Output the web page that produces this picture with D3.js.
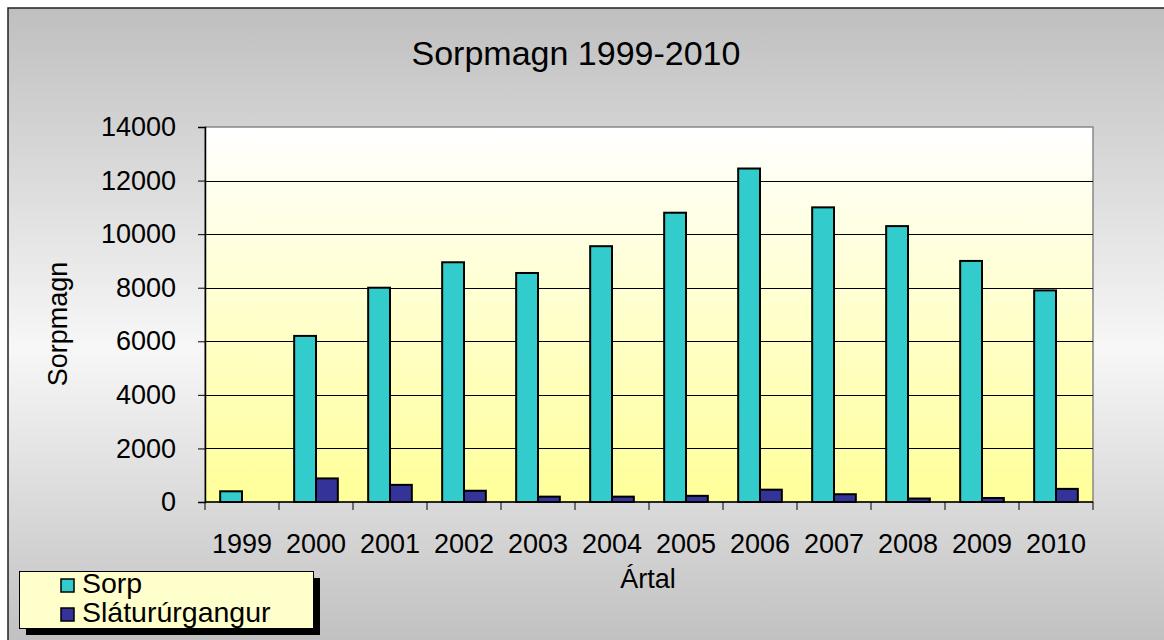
<!DOCTYPE html>
<html>
<head>
<meta charset="utf-8">
<script src="https://cdn.jsdelivr.net/npm/d3@7"></script>
<style>
    body { margin: 0; background: #fff; }
    svg { display: block; font-family: "Liberation Sans", Arial, sans-serif; }
</style>
</head>
<body>
<svg></svg>
<script>
const width = 1164;
const height = 640;

const years = ['1999', '2000', '2001', '2002', '2003', '2004', '2005', '2006', '2007', '2008', '2009', '2010'];
const seriesNames = ['Sorp', 'Sláturúrgangur'];
const sorp = [400, 6200, 8000, 8950, 8550, 9550, 10800, 12450, 11000, 10300, 9000, 7900];
const slatur = [0, 880, 640, 420, 200, 200, 230, 460, 290, 130, 150, 490];
const yTicks = [0, 2000, 4000, 6000, 8000, 10000, 12000, 14000];
const colors = ['#33cccc', '#333399'];

const plot = { left: 205, right: 1093, top: 127, bottom: 502 };

const renderChart = () => {
    const svg = d3.select('svg')
        .attr('width', width)
        .attr('height', height);

    const defs = svg.append('defs');

    const bg = defs.append('linearGradient')
        .attr('id', 'bg')
        .attr('gradientUnits', 'userSpaceOnUse')
        .attr('x1', 0).attr('y1', 8).attr('x2', 0).attr('y2', 650);
    bg.append('stop').attr('offset', 0).attr('stop-color', '#bfbfbf');
    bg.append('stop').attr('offset', 0.53).attr('stop-color', '#f7f7f7');
    bg.append('stop').attr('offset', 1).attr('stop-color', '#bfbfbf');

    const pa = defs.append('linearGradient')
        .attr('id', 'pa')
        .attr('x1', 0).attr('y1', 0).attr('x2', 0).attr('y2', 1);
    pa.append('stop').attr('offset', 0).attr('stop-color', '#ffffff');
    pa.append('stop').attr('offset', 1).attr('stop-color', '#ffff99');

    // chart area (cropped at right and bottom)
    svg.append('rect')
        .attr('x', 8).attr('y', 8)
        .attr('width', 1180).attr('height', 660)
        .attr('fill', 'url(#bg)')
        .attr('stroke', '#222')
        .attr('stroke-width', 1.5);

    const y = d3.scaleLinear().domain([0, 14000]).range([plot.bottom, plot.top]);

    const x0 = d3.scaleBand()
        .domain(years)
        .range([plot.left, plot.right])
        .paddingInner(0.41)
        .paddingOuter(0.205);

    const x1 = d3.scaleBand()
        .domain(seriesNames)
        .range([0, x0.bandwidth()]);

    // plot area
    svg.append('rect')
        .attr('x', plot.left).attr('y', plot.top)
        .attr('width', plot.right - plot.left)
        .attr('height', plot.bottom - plot.top)
        .attr('fill', 'url(#pa)')
        .attr('stroke', '#888')
        .attr('stroke-width', 1.5);

    // gridlines
    svg.append('g')
        .selectAll('line')
        .data(yTicks.filter(t => t > 0 && t < 14000))
        .enter().append('line')
        .attr('x1', plot.left).attr('x2', plot.right)
        .attr('y1', d => Math.round(y(d)) + 0.5)
        .attr('y2', d => Math.round(y(d)) + 0.5)
        .attr('stroke', '#000')
        .attr('stroke-width', 1);

    // bars
    const data = years.map((yr, i) => ({ year: yr, values: [sorp[i], slatur[i]] }));

    const group = svg.append('g')
        .selectAll('g')
        .data(data)
        .enter().append('g')
        .attr('transform', d => `translate(${x0(d.year)},0)`);

    group.selectAll('rect')
        .data(d => d.values.map((v, j) => ({ name: seriesNames[j], value: v, j })))
        .enter().append('rect')
        .filter(d => d.value > 0)
        .attr('x', d => x1(d.name))
        .attr('y', d => y(d.value))
        .attr('width', x1.bandwidth())
        .attr('height', d => y(0) - y(d.value))
        .attr('fill', d => colors[d.j])
        .attr('stroke', '#000')
        .attr('stroke-width', 2);

    // y axis
    const yAxis = svg.append('g')
        .attr('transform', `translate(${plot.left},0)`)
        .call(d3.axisLeft(y).tickValues(yTicks).tickSize(7).tickPadding(22).tickFormat(d3.format('d')));
    yAxis.select('.domain').attr('stroke', '#000').attr('stroke-width', 1.5);
    yAxis.selectAll('.tick line').attr('stroke', '#000');
    yAxis.selectAll('text')
        .attr('font-size', 27)
        .attr('fill', '#000')
        .attr('font-family', '"Liberation Sans", Arial, sans-serif');

    // x axis
    const xEdge = d3.scaleLinear().domain([0, years.length]).range([plot.left, plot.right]);
    const xAxis = svg.append('g')
        .attr('transform', `translate(0,${plot.bottom})`);
    xAxis.append('line')
        .attr('x1', plot.left).attr('x2', plot.right)
        .attr('stroke', '#000').attr('stroke-width', 1.5);
    xAxis.selectAll('.tk')
        .data(d3.range(years.length + 1))
        .enter().append('line')
        .attr('class', 'tk')
        .attr('x1', d => xEdge(d)).attr('x2', d => xEdge(d))
        .attr('y1', 0).attr('y2', 8)
        .attr('stroke', '#000');
    xAxis.selectAll('text')
        .data(years)
        .enter().append('text')
        .attr('x', d => x0(d) + x0.bandwidth() / 2)
        .attr('y', 51)
        .attr('text-anchor', 'middle')
        .attr('font-size', 27)
        .text(d => d);

    // titles
    svg.append('text')
        .attr('x', 576).attr('y', 65)
        .attr('text-anchor', 'middle')
        .attr('font-size', 34)
        .text('Sorpmagn 1999-2010');

    svg.append('text')
        .attr('transform', 'translate(67,324) rotate(-90)')
        .attr('text-anchor', 'middle')
        .attr('font-size', 27)
        .text('Sorpmagn');

    svg.append('text')
        .attr('x', 648).attr('y', 588)
        .attr('text-anchor', 'middle')
        .attr('font-size', 27)
        .text('Ártal');

    // legend
    const legend = svg.append('g');
    legend.append('rect')
        .attr('x', 26).attr('y', 578)
        .attr('width', 294).attr('height', 57)
        .attr('fill', '#000');
    legend.append('rect')
        .attr('x', 19.5).attr('y', 571.5)
        .attr('width', 294).attr('height', 57)
        .attr('fill', '#ffffcc')
        .attr('stroke', '#000')
        .attr('stroke-width', 1);

    const item = legend.selectAll('.item')
        .data(seriesNames)
        .enter().append('g')
        .attr('class', 'item')
        .attr('transform', (d, i) => `translate(0,${i * 29})`);
    item.append('rect')
        .attr('x', 61).attr('y', 579)
        .attr('width', 13).attr('height', 13)
        .attr('fill', (d, i) => colors[i])
        .attr('stroke', '#000')
        .attr('stroke-width', 1.5);
    item.append('text')
        .attr('x', 82).attr('y', 593)
        .attr('font-size', 28.5)
        .text(d => d);
};

document.addEventListener('DOMContentLoaded', () => {
    renderChart();
});
</script>
</body>
</html>
